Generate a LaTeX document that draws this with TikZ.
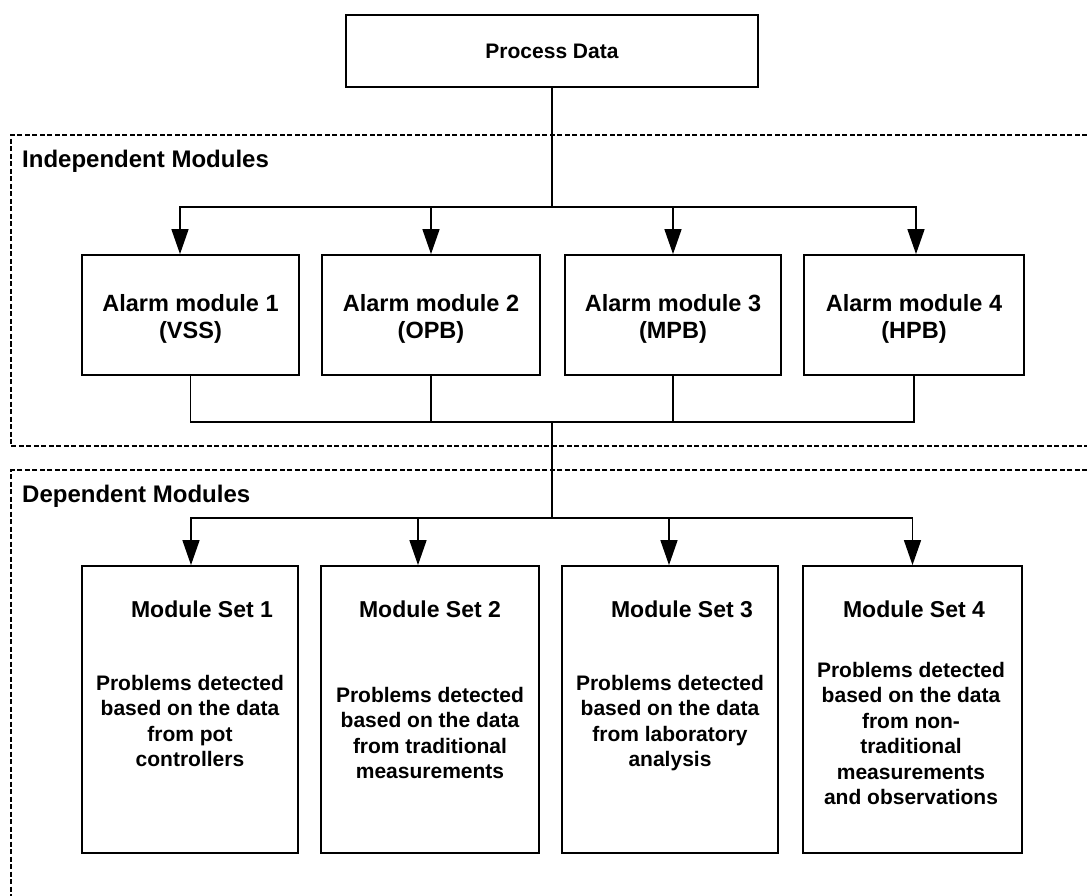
\documentclass[tikz,border=0pt]{standalone}
\usepackage{fontspec}
\setmainfont{Liberation Sans}
\usetikzlibrary{arrows.meta}

\begin{document}
\begin{tikzpicture}[x=1pt,y=-1pt,
  box/.style={draw, line width=1.8pt, rectangle, inner sep=0pt, align=center},
  wire/.style={line width=1.5pt},
  arrow/.style={wire, -{Triangle[length=25pt,width=17pt]}},
  zone/.style={line width=1.2pt, dash pattern=on 5pt off 2.5pt},
  pdtext/.style={font=\bfseries\fontsize{21}{25}\selectfont},
  alarmtext/.style={font=\bfseries\fontsize{23.5}{27}\selectfont, align=center, inner sep=0pt},
  zonelabel/.style={font=\bfseries\fontsize{24}{28}\selectfont, anchor=base west, inner sep=0pt},
  sethead/.style={font=\bfseries\fontsize{23}{27}\selectfont, anchor=base, inner sep=0pt},
  setbody/.style={font=\bfseries\fontsize{21}{25.5}\selectfont, align=center, anchor=north, inner sep=0pt},
]
\useasboundingbox (0,0) rectangle (1087,896);
\fill[white] (0,0) rectangle (1087,896);

% source of all data
\node[box, pdtext, minimum width=412pt, minimum height=72pt] (pd) at (552,51) {Process Data};

% dashed zones
\draw[zone] (1087,135) -- (11,135) -- (11,446) -- (1087,446);
\draw[zone] (1087,470) -- (11,470) -- (11,896);
\node[zonelabel] (indep) at (22,168) {Independent Modules};
\node[zonelabel] (dep) at (22,502) {Dependent Modules};

% alarm modules
\node[box, minimum width=217pt, minimum height=120pt] (a1) at (190.5,315) {};
\node[box, minimum width=218pt, minimum height=120pt] (a2) at (431,315) {};
\node[box, minimum width=216pt, minimum height=120pt] (a3) at (673,315) {};
\node[box, minimum width=220pt, minimum height=120pt] (a4) at (914,315) {};
\node[alarmtext] (a1t) at (190.5,318.5) {Alarm module 1\\(VSS)};
\node[alarmtext] (a2t) at (431,318.5) {Alarm module 2\\(OPB)};
\node[alarmtext] (a3t) at (673,318.5) {Alarm module 3\\(MPB)};
\node[alarmtext] (a4t) at (914,318.5) {Alarm module 4\\(HPB)};

% module sets
\node[box, minimum width=216pt, minimum height=287pt] (m1) at (190,709.5) {};
\node[box, minimum width=218pt, minimum height=287pt] (m2) at (430,709.5) {};
\node[box, minimum width=216pt, minimum height=287pt] (m3) at (670,709.5) {};
\node[box, minimum width=219pt, minimum height=287pt] (m4) at (912.5,709.5) {};

\node[sethead] (m1h) at (202,617) {Module Set 1};
\node[sethead] (m2h) at (430,617) {Module Set 2};
\node[sethead] (m3h) at (682,617) {Module Set 3};
\node[sethead] (m4h) at (914,617) {Module Set 4};

\node[setbody] (m1b) at (190,674.7) {Problems detected\\based on the data\\from pot\\controllers};
\node[setbody] (m2b) at (430,686.7) {Problems detected\\based on the data\\from traditional\\measurements};
\node[setbody] (m3b) at (670,674.7) {Problems detected\\based on the data\\from laboratory\\analysis};
\node[setbody] (m4b) at (911,661.7) {Problems detected\\based on the data\\from non-\\traditional\\measurements\\and observations};

% junction points
\coordinate (j1) at (552,207);
\coordinate (j2) at (552,422);
\coordinate (j3) at (552,518);

% fan-out to the alarm modules
\draw[wire] (pd.south) -- (j1);
\draw[arrow] (j1) -| ([xshift=-10.5pt]a1.north);
\draw[arrow] (j1) -| (a2.north);
\draw[arrow] (j1) -| (a3.north);
\draw[arrow] (j1) -| ([xshift=2pt]a4.north);

% collect alarm outputs
\draw[wire] (a1.south) |- (j2);
\draw[wire] (a2.south) |- (j2);
\draw[wire] (a3.south) |- (j2);
\draw[wire] (a4.south) |- (j2);
\draw[wire] (j2) -- (j3);

% fan-out to the module sets
\draw[arrow] (j3) -| ([xshift=1pt]m1.north);
\draw[arrow] (j3) -| ([xshift=-12pt]m2.north);
\draw[arrow] (j3) -| ([xshift=-1pt]m3.north);
\draw[arrow] (j3) -| (m4.north);
\end{tikzpicture}
\end{document}
